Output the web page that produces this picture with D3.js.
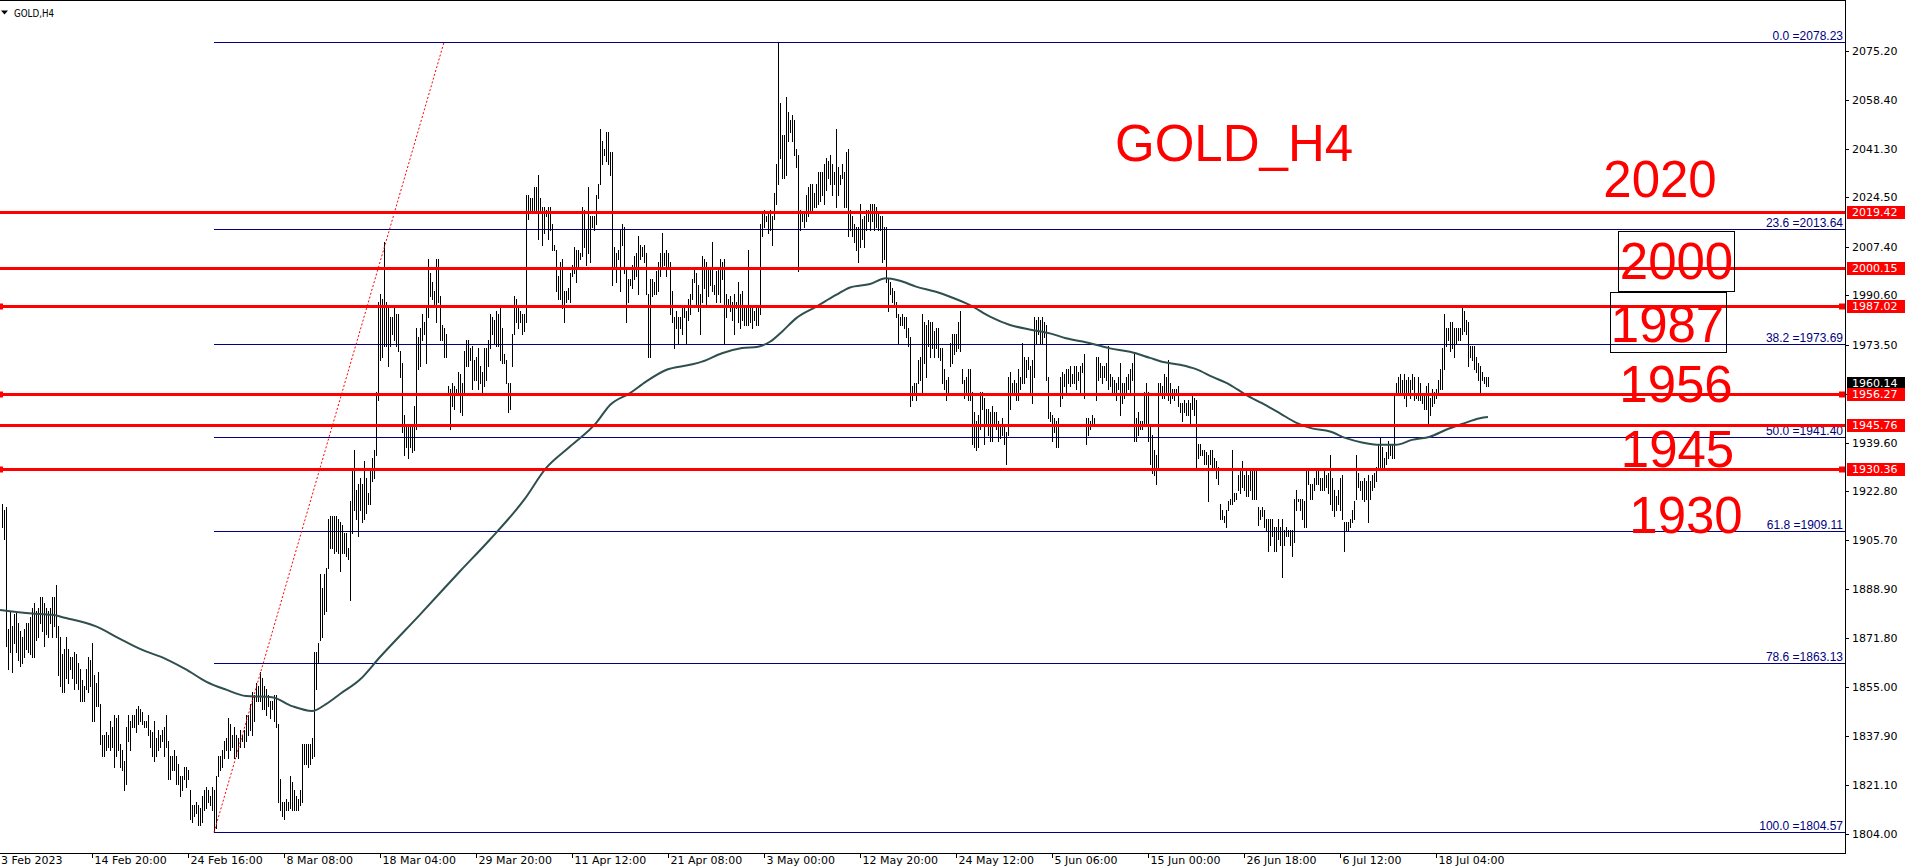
<!DOCTYPE html>
<html><head><meta charset="utf-8">
<script src="https://cdn.jsdelivr.net/npm/d3@7/dist/d3.min.js"></script>
<style>html,body{margin:0;padding:0;background:#fff;overflow:hidden}</style>
</head><body>
<svg id="c" width="1905" height="867"></svg>
<script>
// ---------- DATA ----------
const symbolTitle = "GOLD,H4";
const highs = [
1918,1916,1917,1875,1881,1876,1880,1881,1877,1874,
1872,1875,1877,1877,1879,1882,1884,1881,1882,1886,
1886,1884,1882,1881,1882,1886,1886,1890,1876,1872,
1866,1868,1872,1868,1865,1865,1867,1866,1863,1861,
1857,1855,1861,1865,1864,1870,1859,1856,1860,1849,
1838,1838,1839,1838,1843,1841,1845,1844,1845,1835,
1833,1829,1841,1845,1843,1845,1845,1847,1848,1847,
1846,1843,1843,1845,1840,1839,1843,1837,1840,1838,
1840,1841,1845,1836,1831,1831,1833,1831,1828,1824,
1824,1827,1827,1826,1819,1814,1814,1815,1814,1813,
1817,1819,1820,1819,1817,1820,1819,1824,1831,1831,
1833,1836,1837,1844,1842,1838,1841,1838,1837,1840,
1838,1840,1845,1845,1849,1853,1852,1856,1855,1860,
1858,1855,1854,1852,1850,1850,1852,1852,1842,1823,
1815,1815,1816,1815,1824,1822,1819,1817,1816,1819,
1835,1835,1835,1835,1835,1837,1867,1867,1870,1894,
1889,1894,1896,1913,1914,1914,1914,1914,1913,1912,
1911,1908,1908,1903,1919,1930,1937,1923,1925,1927,
1925,1933,1927,1922,1930,1934,1937,1957,1988,
1991,1989,2009,1988,1986,1983,1983,1986,1984,1984,
1971,1967,1949,1946,1946,1945,1946,1952,1979,1976,
1979,1984,1981,1986,2003,1998,1995,1992,2003,2003,
1990,1980,1979,1977,1959,1958,1960,1959,1958,1964,
1963,1960,1971,1975,1975,1972,1973,1968,1969,1972,
1966,1964,1972,1972,1975,1984,1983,1982,1985,1984,
1987,1979,1970,1968,1960,1960,1977,1990,1989,1986,
1985,1984,1984,2025,2025,2024,2024,2028,2028,2032,
2024,2021,2021,2020,2021,2021,2015,2008,2006,1997,
2002,2003,1992,1992,1993,1998,2001,2007,2006,2006,
2005,2021,2020,2013,2028,2018,2018,2018,2025,2029,
2048,2044,2041,2047,2047,2040,2040,2007,2005,2006,
2013,2015,2014,2000,1996,1996,2001,2004,2005,2011,
2008,2007,2008,2005,1991,1996,1996,1995,1999,2002,
2005,2012,2005,2006,2005,2002,1992,1983,1985,1983,
1983,1986,1987,1985,1989,1991,1996,2000,1998,1994,
1991,2004,2003,2002,2000,2000,2009,1994,1999,2000,
2003,2002,2003,1991,1989,1990,1988,1991,1988,1995,
1991,1992,1987,1986,2006,1987,1986,1985,1986,1986,
2015,2019,2020,2018,2019,2020,2018,2026,2036,2078.23,
2057,2046,2046,2059,2054,2051,2053,2051,2041,2039,
2020,2019,2019,2025,2028,2029,2029,2026,2029,2033,
2033,2033,2036,2038,2037,2039,2036,2033,2048,2035,
2032,2036,2033,2040,2041,2020,2018,2015,2014,2014,
2022,2017,2018,2020,2020,2022,2022,2022,2021,2019,
2018,2018,2014,2014,1996,1995,1993,1992,1988,1984,
1983,1984,1983,1983,1979,1976,1959,1960,1960,1968,
1969,1984,1981,1980,1982,1981,1981,1978,1979,1979,
1972,1972,1965,1961,1962,1974,1977,1977,1977,1981,
1985,1965,1961,1962,1965,1965,1957,1950,1947,1949,
1957,1957,1955,1951,1951,1950,1952,1950,1950,1947,
1946,1948,1946,1943,1962,1964,1960,1961,1960,1965,
1962,1974,1969,1968,1969,1966,1968,1983,1982,1983,
1982,1983,1981,1980,1962,1950,1949,1948,1947,1948,
1962,1964,1963,1965,1965,1966,1963,1966,1966,1964,
1966,1967,1970,1948,1948,1947,1949,1948,1969,1969,
1967,1966,1966,1967,1973,1963,1962,1961,1960,1962,
1967,1960,1960,1962,1963,1965,1967,1970,1948,1950,
1947,1947,1957,1960,1957,
1945,1942,1937,1935,1960,1960,1959,1963,1962,1968,
1960,1958,1958,1958,1959,1953,1953,1954,1953,1954,
1953,1956,1955,1954,1939,1939,1937,1937,1936,1935,
1937,1937,1934,1933,1931,1918,1916,1914,1916,1919,
1920,1937,1922,1922,1928,1930,1933,1928,1930,1928,
1930,1930,1930,1930,1917,1916,1917,1916,1913,1913,
1913,1913,1910,1910,1913,1910,1913,1909,1910,1909,
1909,1909,1920,1923,1920,1920,1920,1919,1930,1930,
1925,1925,1927,1930,1930,1927,1927,1930,1928,1929,
1935,1927,1923,1921,1923,1927,1928,1912,1912,1912,
1913,1916,1919,1935,1929,1926,1926,1927,1926,1928,
1926,1928,1929,1931,1939,1941,1938,1934,1936,1940,
1939,1939,1956,1960,1962,1963,1961,1963,1961,1962,
1961,1963,1962,1956,1962,1960,1956,1956,1959,1960,
1955,1958,1957,1958,1961,1965,1972,1984,1979,1979,
1981,1981,1979,1979,1979,1979,1987,1985,1982,1981,
1973,1973,1973,1969,1967,1966,1964,1962,1962,1962
];
const lows = [
1910,1906,1869,1861,1867,1860,1870,1867,1864,1862,
1863,1865,1868,1867,1866,1865,1865,1871,1872,1877,
1874,1869,1873,1872,1877,1872,1876,1872,1859,1855,
1853,1853,1858,1856,1861,1858,1854,1856,1854,1850,
1850,1850,1854,1853,1855,1843,1843,1848,1848,1835,
1831,1831,1833,1834,1833,1834,1827,1831,1833,1827,
1826,1819,1821,1836,1833,1841,1841,1839,1842,1843,
1842,1841,1841,1838,1834,1831,1829,1831,1833,1834,
1836,1831,1834,1823,1823,1826,1826,1821,1821,1817,
1819,1823,1820,1823,1809,1808,1810,1811,1807,1807,
1808,1812,1813,1815,1814,1812,1804.57,1806,1824,1826,
1827,1830,1833,1830,1833,1834,1830,1831,1830,1834,
1836,1834,1836,1838,1840,1838,1843,1850,1850,1850,
1847,1847,1845,1848,1844,1847,1843,1841,1815,1812,
1810,1809,1812,1812,1813,1812,1812,1812,1812,1814,
1815,1828,1828,1827,1828,1830,1831,1854,1863,1871,
1872,1880,1881,1896,1903,1903,1901,1902,1901,1895,
1901,1901,1900,1899,1885,1908,1916,1913,1907,1916,
1912,1913,1915,1918,1918,1926,1927,1935,1954,
1968,1969,1973,1973,1966,1973,1977,1975,1973,1971,
1962,1943,1935,1938,1934,1938,1936,1937,1944,1965,
1966,1975,1977,1967,1983,1990,1989,1987,1981,1988,
1975,1975,1969,1969,1956,1944,1952,1951,1956,1957,
1950,1949,1957,1966,1966,1968,1958,1961,1961,1958,
1960,1956,1959,1961,1966,1972,1977,1974,1973,1973,
1968,1967,1967,1960,1950,1951,1966,1977,1981,1979,
1981,1977,1978,1981,2017,2020,2019,2020,2019,2010,
2019,2008,2012,2018,2010,2013,2006,2006,1992,1989,
1989,1986,1981,1988,1989,1988,1997,1998,1995,2000,
2003,2004,2007,2001,2005,2002,2014,2013,2015,2024,
2029,2036,2039,2037,2036,2032,1994,2000,1995,2003,
1992,2008,1998,1981,1988,1994,1993,1996,1997,1991,
2003,2004,2002,1991,1969,1969,1990,1991,1991,1992,
1997,2000,2001,1997,2000,1984,1981,1972,1979,1974,
1979,1977,1983,1974,1982,1984,1989,1995,1987,1985,
1977,1988,1993,1987,1990,1994,1992,1991,1988,1991,
1988,1996,1974,1983,1987,1985,1982,1977,1986,1981,
1979,1982,1980,1980,1980,1981,1979,1982,1980,1980,
1984,2011,2014,2016,2012,2013,2008,2017,2022,2029,
2038,2031,2031,2032,2044,2047,2044,2039,2035,1999,
2013,2016,2014,2016,2018,2020,2020,2021,2021,2022,
2023,2025,2022,2027,2031,2029,2025,2029,2021,2025,
2029,2031,2021,2021,2011,2013,2011,2009,2006,2002,
2007,2010,2007,2013,2016,2013,2016,2013,2014,2013,
2013,2002,2003,1995,1985,1991,1988,1987,1983,1974,
1980,1980,1979,1976,1973,1952,1954,1957,1954,1960,
1961,1957,1967,1962,1973,1969,1972,1969,1972,1969,
1968,1960,1958,1954,1957,1966,1967,1970,1971,1972,
1971,1960,1955,1957,1954,1954,1939,1938,1937,1938,
1944,1951,1939,1945,1942,1940,1940,1945,1944,1940,
1941,1942,1939,1932,1942,1951,1956,1957,1954,1954,
1958,1960,1960,1962,1965,1957,1953,1962,1974,1977,
1974,1974,1976,1961,1948,1947,1940,1943,1938,1938,
1952,1955,1959,1957,1960,1959,1960,1960,1958,1961,
1957,1964,1955,1939,1942,1944,1946,1945,1954,1961,
1962,1960,1962,1961,1958,1959,1957,1956,1954,1958,
1949,1953,1955,1957,1958,1957,1961,1940,1940,1942,
1944,1944,1946,1946,1940,
1932,1929,1928,1925,1930,1957,1955,1955,1956,1954,
1953,1955,1954,1956,1952,1950,1947,1950,1949,1949,
1945,1951,1949,1930,1934,1935,1935,1932,1932,1919,
1932,1931,1930,1927,1925,1913,1913,1912,1910,1916,
1918,1918,1919,1920,1923,1922,1924,1923,1921,1921,
1923,1920,1920,1920,1911,1913,1914,1910,1909,1902,
1904,1907,1902,1902,1906,1904,1893,1904,1907,1907,
1904,1900,1905,1916,1919,1916,1913,1910,1910,1925,
1920,1920,1923,1925,1925,1923,1923,1923,1924,1922,
1918,1916,1914,1916,1918,1916,1913,1902,1909,1909,
1910,1912,1913,1920,1924,1923,1920,1919,1920,1912,
1920,1923,1924,1926,1930,1931,1930,1931,1932,1934,
1935,1934,1934,1956,1957,1956,1957,1955,1952,1957,
1955,1958,1954,1955,1954,1954,1953,1951,1951,1946,
1949,1952,1953,1955,1957,1958,1958,1965,1973,1975,
1971,1972,1969,1974,1975,1975,1977,1978,1977,1966,
1969,1968,1965,1964,1961,1957,1961,1960,1959,1959
];
// 200-period moving average at these bar numbers
const maBars = [-1,15,25,32,47,59,69,82,92,102,112,122,135,145,155,162,169,179,189,209,229,244,261,272,284,297,304,314,322,332,344,350,360,370,378,384,390,397,407,417,424,434,442,449,457,467,474,484,494,504,515,524,532,544,554,564,574,580,589,597,605,614,622,630,639,647,655,664,672,680,689,697,705,714,722,730,739,743];
const maValues = [1881.6,1880.4,1879.9,1878.8,1875.9,1871.6,1868.1,1864.6,1861.0,1856.8,1854.0,1851.8,1851.4,1848.3,1846.6,1849.0,1852.5,1857.5,1865.3,1880,1895,1906,1919.7,1930.7,1938.2,1946.3,1952.6,1956.7,1960.7,1964.7,1966.5,1967.6,1970.5,1972.3,1972.8,1974.5,1978.0,1982.6,1986.6,1990.7,1993.3,1994.5,1996.5,1995.6,1993.6,1991.8,1990.1,1987.2,1983.2,1980.3,1978.6,1977.4,1975.7,1974.0,1972.2,1971.0,1968.9,1967.6,1966.5,1965.0,1962.4,1959.6,1956.1,1953.2,1949.7,1946.5,1944.5,1943.4,1941.1,1939.6,1938.8,1938.8,1940.5,1941.6,1944.0,1946.0,1948.0,1948.4];

const priceTicks = [2075.20,2058.40,2041.30,2024.50,2007.40,1990.60,1973.50,1956.50,1939.60,1922.80,1905.70,1888.90,1871.80,1855.00,1837.90,1821.10,1804.00];
const timeLabels = ["3 Feb 2023","14 Feb 20:00","24 Feb 16:00","8 Mar 08:00","18 Mar 04:00","29 Mar 20:00","11 Apr 12:00","21 Apr 08:00","3 May 00:00","12 May 20:00","24 May 12:00","5 Jun 06:00","15 Jun 00:00","26 Jun 18:00","6 Jul 12:00","18 Jul 04:00"];
const timeLabelBars = [-3,45,93,141,189,237,285,333,381,429,477,525,573,621,669,717];

const levelValues = [2019.42, 2000.15, 1987.02, 1956.27, 1945.76, 1930.36];
const levelHasMarker = [false, false, true, true, false, true];
const fibRatios = ["0.0","23.6","38.2","50.0","61.8","78.6","100.0"];
const fibValues = [2078.23, 2013.64, 1973.69, 1941.40, 1909.11, 1863.13, 1804.57];
const fibAnchorBars = [106, 221];
const fibAnchorPrices = [1804.57, 2078.23];
const lastPrice = 1960.14;
const chartTitle = "GOLD_H4";
const levelNotes = ["2020","2000","1987","1956","1945","1930"];

// ---------- DRAW ----------
const W = 1905, H = 867, PR = 1845, PB = 853;
const svg = d3.select("#c");
const x = d3.scaleLinear().domain([0, 1]).range([2, 4]);          // 2 px per H4 bar
const y = d3.scaleLinear().domain([1804, 2075.2]).range([834, 51]);

svg.append("rect").attr("width", W).attr("height", H).attr("fill", "#fff");
svg.append("defs").append("clipPath").attr("id", "clip")
  .append("rect").attr("x", 0).attr("y", 0).attr("width", PR).attr("height", PB);
const plot = svg.append("g").attr("clip-path", "url(#clip)");

const UI = "'DejaVu Sans', Verdana, sans-serif";
const ARIAL = "'Liberation Sans', Arial, sans-serif";

// fibonacci levels
const fibStart = x(fibAnchorBars[0]);
const fibG = plot.append("g");
fibValues.forEach((v, i) => {
  const yy = Math.round(y(v)) + 0.5;
  fibG.append("line").attr("x1", fibStart).attr("x2", PR).attr("y1", yy).attr("y2", yy)
    .attr("stroke", "#000080").attr("stroke-width", 1);
  fibG.append("text").attr("x", PR - 2).attr("y", yy - 2.5).attr("text-anchor", "end")
    .attr("font-family", ARIAL).attr("font-size", 12).attr("fill", "#000080")
    .text(fibRatios[i] + " =" + v.toFixed(2));
});

// bars (high-low lines)
plot.append("g").selectAll("rect").data(highs).join("rect")
  .attr("x", (d, i) => Math.round(x(i)))
  .attr("y", d => Math.floor(y(d)))
  .attr("width", 1)
  .attr("height", (d, i) => Math.max(1, Math.ceil(y(lows[i])) - Math.floor(y(d))))
  .attr("fill", "#000");

// moving average
const maPts = maBars.map((b, i) => [b, maValues[i]]);
plot.append("path").datum(maPts)
  .attr("d", d3.line().x(d => x(d[0])).y(d => y(d[1])).curve(d3.curveMonotoneX))
  .attr("fill", "none").attr("stroke", "#2F4F4F").attr("stroke-width", 2);

// horizontal red levels
levelValues.forEach((v, i) => {
  const yy = Math.round(y(v)) + 0.5;
  plot.append("line").attr("x1", 0).attr("x2", PR).attr("y1", yy).attr("y2", yy)
    .attr("stroke", "#FF0000").attr("stroke-width", 3);
  if (levelHasMarker[i]) {
    plot.append("rect").attr("x", PR - 6).attr("y", yy - 3).attr("width", 6).attr("height", 6).attr("fill", "#FF0000");
    plot.append("rect").attr("x", 0).attr("y", yy - 3).attr("width", 3).attr("height", 6).attr("fill", "#FF0000");
  }
});

// fib trend (dotted)
plot.append("line")
  .attr("x1", x(fibAnchorBars[0])).attr("y1", y(fibAnchorPrices[0]))
  .attr("x2", x(fibAnchorBars[1])).attr("y2", y(fibAnchorPrices[1]))
  .attr("stroke", "#FF0000").attr("stroke-width", 1).attr("stroke-dasharray", "2,2");

// annotations
const ann = svg.append("g").attr("font-family", ARIAL).attr("fill", "#FF0000");
ann.append("text").attr("x", 1115).attr("y", 161).attr("font-size", 51).text(chartTitle);
const notePos = [[1660, 197], [1676.5, 279], [1667.5, 342], [1676, 402], [1677.5, 467], [1686, 533]];
levelNotes.forEach((t, i) => {
  ann.append("text").attr("x", notePos[i][0]).attr("y", notePos[i][1]).attr("font-size", 51)
    .attr("text-anchor", "middle").text(t);
});
svg.append("rect").attr("x", 1618.5).attr("y", 231.5).attr("width", 116).attr("height", 60)
  .attr("fill", "none").attr("stroke", "#000").attr("stroke-width", 1);
svg.append("rect").attr("x", 1610.5).attr("y", 292.5).attr("width", 116).attr("height", 60)
  .attr("fill", "none").attr("stroke", "#000").attr("stroke-width", 1);

// frame / axes
svg.append("line").attr("x1", 0).attr("x2", PR).attr("y1", 0.5).attr("y2", 0.5).attr("stroke", "#000");
svg.append("line").attr("x1", PR + 0.5).attr("x2", PR + 0.5).attr("y1", 0).attr("y2", PB + 1).attr("stroke", "#000");
svg.append("line").attr("x1", 0).attr("x2", PR + 1).attr("y1", PB + 0.5).attr("y2", PB + 0.5).attr("stroke", "#000");

const axG = svg.append("g").attr("font-family", UI).attr("font-size", 11);
priceTicks.forEach(p => {
  const yy = Math.round(y(p)) + 0.5;
  axG.append("line").attr("x1", PR).attr("x2", PR + 4).attr("y1", yy).attr("y2", yy).attr("stroke", "#000");
  axG.append("text").attr("x", 1852).attr("y", yy).attr("dy", "0.36em").attr("fill", "#000").text(p.toFixed(2));
});

// price badges
function badge(v, bg) {
  const yy = Math.round(y(v));
  axG.append("rect").attr("x", 1847).attr("y", yy - 6).attr("width", 58).attr("height", 13).attr("fill", bg);
  axG.append("text").attr("x", 1852).attr("y", yy + 0.5).attr("dy", "0.36em").attr("fill", "#fff").text(v.toFixed(2));
}
badge(lastPrice, "#000");
levelValues.forEach(v => badge(v, "#FF0000"));

// time axis
timeLabelBars.forEach((b, i) => {
  const xx = Math.round(x(b)) + 0.5;
  axG.append("line").attr("x1", xx).attr("x2", xx).attr("y1", PB).attr("y2", PB + 5).attr("stroke", "#000");
  axG.append("text").attr("x", Math.max(1, xx + 2)).attr("y", 864).attr("fill", "#000").text(timeLabels[i]);
});

// title
svg.append("path").attr("d", "M1,10.5 L8,10.5 L4.5,14.5 Z").attr("fill", "#000");
svg.append("text").attr("x", 14).attr("y", 16.5).attr("font-family", UI).attr("font-size", 11)
  .attr("textLength", 40).attr("lengthAdjust", "spacingAndGlyphs").attr("fill", "#000").text(symbolTitle);
</script>
</body></html>
